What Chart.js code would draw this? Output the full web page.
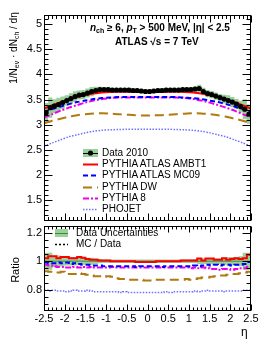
<!DOCTYPE html>
<html>
<head>
<meta charset="utf-8">
<script src="https://cdn.jsdelivr.net/npm/chart.js@4.4.0/dist/chart.umd.min.js"></script>
<style>
  body { margin: 0; width: 266px; height: 344px; position: relative; background: #fff; overflow: hidden;
         font-family: "Liberation Sans", Arial, sans-serif; }
  canvas { position: absolute; left: 0; }
  #top { top: 0; }
  #bot { top: 217px; }
  .t { position: absolute; white-space: nowrap; color: #000; line-height: 1; }
  .rot { transform: translate(-50%, -50%) rotate(-90deg); }
  .lg { font-size: 10px; transform: translateY(-50%); }
  sub { font-size: 70%; vertical-align: -0.3em; line-height: 0; }
</style>
</head>
<body>
<canvas id="top" width="266" height="230"></canvas>
<canvas id="bot" width="266" height="127"></canvas>

<div class="t" style="left:90px;top:23px;font-size:10px;font-weight:bold"><i>n</i><sub>ch</sub> ≥ 6, <i>p</i><sub>T</sub> &gt; 500 MeV, |η| &lt; 2.5</div>
<div class="t" style="left:115px;top:37px;font-size:10px;font-weight:bold">ATLAS √s = 7 TeV</div>
<div class="t rot" style="left:14px;top:48px;font-size:10px">1/N<sub>ev</sub> · dN<sub>ch</sub> / dη</div>
<div class="t rot" style="left:15px;top:270px;font-size:11px">Ratio</div>
<div class="t" style="left:241px;top:326px;font-size:12px">η</div>

<div class="t lg" style="left:102px;top:153px">Data 2010</div>
<div class="t lg" style="left:102px;top:164px">PYTHIA ATLAS AMBT1</div>
<div class="t lg" style="left:102px;top:175px">PYTHIA ATLAS MC09</div>
<div class="t lg" style="left:102px;top:187px">PYTHIA DW</div>
<div class="t lg" style="left:102px;top:198px">PYTHIA 8</div>
<div class="t lg" style="left:102px;top:209px">PHOJET</div>
<div class="t lg" style="left:76px;top:233px">Data Uncertainties</div>
<div class="t lg" style="left:76px;top:244px">MC / Data</div>

<script>
// eta binning: 50 bins of 0.1 between -2.5 and 2.5
const etaEdges = Array.from({ length: 51 }, (_, i) => +(-2.5 + 0.1 * i).toFixed(1));
const etaCenters = etaEdges.slice(0, 50).map(e => +(e + 0.05).toFixed(2));

// measured 1/Nev dNch/deta per bin
const dataVals = [3.24, 3.34, 3.37, 3.40, 3.44, 3.48, 3.52, 3.56, 3.59, 3.60,
                  3.63, 3.66, 3.68, 3.70, 3.70, 3.70, 3.69, 3.69, 3.69, 3.69,
                  3.69, 3.68, 3.68, 3.67, 3.66, 3.66, 3.67, 3.68, 3.68, 3.69,
                  3.69, 3.69, 3.69, 3.70, 3.70, 3.70, 3.71, 3.72, 3.66, 3.62,
                  3.60, 3.57, 3.54, 3.51, 3.48, 3.45, 3.41, 3.36, 3.31, 3.21];
// relative data uncertainty per bin
const dataUnc = [0.060, 0.060, 0.040, 0.040, 0.035, 0.030, 0.030, 0.030, 0.025, 0.025,
                 0.025, 0.025, 0.020, 0.015, 0.012, 0.012, 0.012, 0.012, 0.012, 0.012,
                 0.012, 0.012, 0.012, 0.012, 0.012, 0.012, 0.012, 0.012, 0.012, 0.012,
                 0.012, 0.012, 0.012, 0.012, 0.012, 0.012, 0.015, 0.020, 0.020, 0.020,
                 0.020, 0.020, 0.020, 0.025, 0.030, 0.030, 0.030, 0.035, 0.060, 0.060];

// MC predictions (top panel), sampled every 0.2 in eta
const mcEta = [-2.5, -2.3, -2.1, -1.9, -1.7, -1.5, -1.3, -1.1, -0.9, -0.7, -0.5, -0.3, -0.1,
               0.1, 0.3, 0.5, 0.7, 0.9, 1.1, 1.3, 1.5, 1.7, 1.9, 2.1, 2.3, 2.5];
const ambt1 = [3.32, 3.39, 3.45, 3.50, 3.55, 3.59, 3.62, 3.64, 3.65, 3.655, 3.655, 3.65, 3.65,
               3.65, 3.65, 3.655, 3.655, 3.65, 3.64, 3.62, 3.59, 3.55, 3.50, 3.45, 3.39, 3.32];
const mc09 = [3.26, 3.31, 3.36, 3.41, 3.45, 3.48, 3.51, 3.53, 3.54, 3.55, 3.55, 3.55, 3.55,
              3.55, 3.55, 3.55, 3.55, 3.54, 3.53, 3.51, 3.48, 3.45, 3.41, 3.36, 3.31, 3.26];
const pythia8 = [3.14, 3.21, 3.28, 3.34, 3.39, 3.44, 3.48, 3.51, 3.53, 3.54, 3.54, 3.54, 3.54,
                 3.54, 3.54, 3.54, 3.54, 3.53, 3.51, 3.48, 3.44, 3.39, 3.34, 3.28, 3.21, 3.14];
const dw = [3.03, 3.08, 3.12, 3.16, 3.19, 3.21, 3.225, 3.23, 3.22, 3.21, 3.20, 3.19, 3.185,
            3.185, 3.19, 3.20, 3.21, 3.22, 3.23, 3.225, 3.21, 3.19, 3.16, 3.12, 3.08, 3.03];
const phojet = [2.57, 2.64, 2.70, 2.76, 2.80, 2.84, 2.87, 2.89, 2.90, 2.905, 2.91, 2.91, 2.91,
                2.91, 2.91, 2.91, 2.905, 2.90, 2.89, 2.87, 2.84, 2.80, 2.76, 2.70, 2.64, 2.57];

// MC / Data per bin (bottom panel)
const rAmbt1 = [1.02, 1.035, 1.035, 1.02, 1.03, 1.03, 1.02, 1.02, 1.03, 1.025,
                1.015, 1.01, 1.01, 1.005, 1.005, 1.005, 1.0, 1.0, 1.0, 1.0,
                1.0, 1.0, 0.995, 0.995, 0.995, 0.995, 0.995, 1.0, 1.0, 1.0,
                1.0, 1.0, 1.0, 1.005, 1.005, 1.005, 1.005, 1.018, 1.005, 1.018,
                1.018, 1.01, 1.01, 1.02, 1.01, 1.015, 1.02, 1.015, 1.02, 1.045];
const rMc09 = [0.99, 0.985, 0.985, 0.99, 0.985, 0.99, 0.98, 0.985, 0.98, 0.975,
               0.975, 0.97, 0.97, 0.97, 0.965, 0.965, 0.965, 0.965, 0.965, 0.965,
               0.965, 0.965, 0.96, 0.965, 0.965, 0.965, 0.965, 0.965, 0.96, 0.965,
               0.965, 0.965, 0.965, 0.965, 0.965, 0.965, 0.97, 0.965, 0.97, 0.975,
               0.97, 0.975, 0.97, 0.975, 0.975, 0.97, 0.975, 0.975, 0.98, 0.995];
const rPythia8 = [0.975, 0.97, 0.965, 0.96, 0.96, 0.955, 0.955, 0.96, 0.955, 0.96,
                  0.955, 0.96, 0.955, 0.955, 0.955, 0.955, 0.96, 0.955, 0.955, 0.955,
                  0.955, 0.955, 0.955, 0.955, 0.955, 0.955, 0.955, 0.955, 0.955, 0.955,
                  0.955, 0.955, 0.955, 0.955, 0.955, 0.95, 0.955, 0.95, 0.955, 0.95,
                  0.945, 0.945, 0.94, 0.945, 0.945, 0.94, 0.945, 0.95, 0.95, 0.96];
const rDw = [0.93, 0.925, 0.925, 0.92, 0.925, 0.92, 0.91, 0.91, 0.915, 0.91,
             0.905, 0.9, 0.895, 0.895, 0.89, 0.895, 0.89, 0.88, 0.875, 0.875,
             0.87, 0.87, 0.87, 0.87, 0.865, 0.865, 0.87, 0.87, 0.87, 0.87,
             0.87, 0.87, 0.87, 0.87, 0.875, 0.87, 0.875, 0.88, 0.885, 0.885,
             0.89, 0.895, 0.9, 0.9, 0.905, 0.91, 0.91, 0.915, 0.92, 0.925];
const rPhojet = [0.795, 0.79, 0.795, 0.79, 0.79, 0.785, 0.79, 0.795, 0.79, 0.79,
                 0.795, 0.79, 0.785, 0.785, 0.785, 0.785, 0.785, 0.785, 0.78, 0.785,
                 0.78, 0.78, 0.78, 0.78, 0.78, 0.78, 0.78, 0.78, 0.78, 0.785,
                 0.78, 0.785, 0.785, 0.785, 0.785, 0.785, 0.79, 0.785, 0.79, 0.795,
                 0.79, 0.79, 0.79, 0.785, 0.79, 0.79, 0.79, 0.79, 0.795, 0.795];

const topYTicks = [1.5, 2, 2.5, 3, 3.5, 4, 4.5, 5];
const botYTicks = [0.8, 1, 1.2];
const xTickLabels = [-2.5, -2, -1.5, -1, -0.5, 0, 0.5, 1, 1.5, 2, 2.5];

// line styles
const st = {
  ambt1:   { color: "#ff0000", dash: [], width: 2 },
  mc09:    { color: "#0000ff", dash: [5, 3], width: 2 },
  dw:      { color: "#b07a10", dash: [9, 5], width: 2 },
  pythia8: { color: "#ee00ee", dash: [6, 2, 2, 2], width: 2 },
  phojet:  { color: "#7070ff", dash: [1.5, 1.5], width: 1.5 },
};
const bandColor = "#9bd09b";

Chart.defaults.font.family = "'Liberation Sans', Arial, sans-serif";
Chart.defaults.font.size = 11;
Chart.defaults.color = "#000";

//histogram as pairs of points at the bin edges
function histPoints(vals) {
  const pts = [];
  vals.forEach((v, i) => pts.push({ x: etaEdges[i], y: v }, { x: etaEdges[i + 1], y: v }));
  return pts;
}
function lineSet(pts, s, order) {
  return { data: pts, borderColor: s.color, borderDash: s.dash, borderWidth: s.width,
           pointRadius: 0, fill: false, order: order };
}

//ROOT style frame with ticks on all four sides
const rootFrame = {
  id: "rootFrame",
  afterDatasetsDraw(chart, args, o) {
    const { ctx, chartArea: a } = chart;
    const xs = chart.scales.x, ys = chart.scales.y;
    const L = Math.round(a.left) + 0.5, R = Math.round(a.right) - 0.5;
    const T = Math.round(a.top) + 0.5, B = Math.round(a.bottom) - 0.5;
    ctx.save();
    ctx.strokeStyle = "#000";
    ctx.lineWidth = 1;
    ctx.beginPath();
    for (let k = -25; k <= 25; k++) {
      const px = Math.round(xs.getPixelForValue(k / 10)) + 0.5;
      const len = k % 5 === 0 ? o.xMajor : o.xMinor;
      ctx.moveTo(px, B); ctx.lineTo(px, B - len);
      ctx.moveTo(px, T); ctx.lineTo(px, T + len);
    }
    for (let k = o.yFrom; k <= o.yTo; k++) {
      const v = k * o.yStep;
      const py = Math.round(ys.getPixelForValue(v)) + 0.5;
      if (py < T || py > B) continue;
      const len = k % o.yEvery === 0 ? o.yMajor : o.yMinor;
      ctx.moveTo(L, py); ctx.lineTo(L + len, py);
      ctx.moveTo(R, py); ctx.lineTo(R - len, py);
    }
    ctx.stroke();
    ctx.strokeRect(L, T, R - L, B - T);
    ctx.restore();
  },
};

//legend samples, drawn on the canvas next to the html labels
const legendSamples = {
  id: "legendSamples",
  afterDraw(chart, args, o) {
    const ctx = chart.ctx;
    ctx.save();
    for (const it of o.items) {
      const y = Math.round(it.y) + 0.5;
      if (it.box) {
        ctx.fillStyle = bandColor;
        ctx.fillRect(o.x0, it.y - it.box, o.x1 - o.x0, it.box * 2);
      }
      if (it.s) {
        ctx.strokeStyle = it.s.color;
        ctx.lineWidth = it.s.width;
        ctx.setLineDash(it.s.dash);
        ctx.beginPath();
        ctx.moveTo(o.x0, y); ctx.lineTo(o.x1, y);
        ctx.stroke();
        ctx.setLineDash([]);
      }
      if (it.dot) {
        ctx.fillStyle = "#000";
        ctx.beginPath();
        ctx.arc((o.x0 + o.x1) / 2, it.y, 2.6, 0, Math.PI * 2);
        ctx.fill();
      }
    }
    ctx.restore();
  },
};

// top panel
const bandUp = dataVals.map((v, i) => v * (1 + dataUnc[i]));
const bandLo = dataVals.map((v, i) => v * (1 - dataUnc[i]));
const errBars = [];
dataVals.forEach((v, i) => errBars.push({ x: etaEdges[i], y: v }, { x: etaEdges[i + 1], y: v }, { x: etaEdges[i + 1], y: null }));
const mcPts = arr => arr.map((v, i) => ({ x: mcEta[i], y: v }));

new Chart(document.getElementById("top"), {
  type: "line",
  data: {
    datasets: [
      { data: histPoints(bandUp), borderWidth: 0, pointRadius: 0, fill: false, order: 20 },
      { data: histPoints(bandLo), borderWidth: 0, pointRadius: 0, backgroundColor: bandColor, fill: "-1", order: 19 },
      { ...lineSet(mcPts(phojet), st.phojet, 10), tension: 0.3 },
      { ...lineSet(mcPts(dw), st.dw, 9), tension: 0.3 },
      { ...lineSet(mcPts(pythia8), st.pythia8, 8), tension: 0.3 },
      { ...lineSet(mcPts(mc09), st.mc09, 7), tension: 0.3 },
      { ...lineSet(mcPts(ambt1), st.ambt1, 6), tension: 0.3 },
      { data: errBars, borderColor: "#000", borderWidth: 1, pointRadius: 0, spanGaps: false, order: 2 },
      { data: dataVals.map((v, i) => ({ x: etaCenters[i], y: v })), showLine: false,
        pointRadius: 2.6, pointBackgroundColor: "#000", pointBorderWidth: 0, order: 1 },
    ],
  },
  options: {
    responsive: false,
    animation: false,
    layout: { padding: { left: 0, top: 15, right: 15, bottom: 6 } },
    scales: {
      x: { type: "linear", min: -2.5, max: 2.5, display: false },
      y: {
        type: "linear", min: 1.08, max: 5.18,
        grid: { display: false, drawTicks: false }, border: { display: false },
        afterBuildTicks: s => { s.ticks = topYTicks.map(v => ({ value: v })); },
        afterFit: s => { s.width = 44; },
        ticks: { padding: 2, callback: v => String(v) },
      },
    },
    plugins: {
      legend: { display: false }, tooltip: { enabled: false },
      rootFrame: { xMajor: 7, xMinor: 3.5, yFrom: 11, yTo: 51, yStep: 0.1, yEvery: 5, yMajor: 8, yMinor: 4 },
      legendSamples: {
        x0: 83, x1: 98,
        items: [
          { y: 153, box: 4, s: { color: "#000", dash: [], width: 1 }, dot: true },
          { y: 164, s: st.ambt1 },
          { y: 175, s: st.mc09 },
          { y: 187, s: st.dw },
          { y: 198, s: st.pythia8 },
          { y: 209, s: st.phojet },
        ],
      },
    },
  },
  plugins: [rootFrame, legendSamples],
});

// ratio panel
new Chart(document.getElementById("bot"), {
  type: "line",
  data: {
    datasets: [
      { data: histPoints(dataUnc.map(u => 1 + u)), borderWidth: 0, pointRadius: 0, fill: false, order: 20 },
      { data: histPoints(dataUnc.map(u => 1 - u)), borderWidth: 0, pointRadius: 0, backgroundColor: bandColor, fill: "-1", order: 19 },
      { data: [{ x: -2.5, y: 1 }, { x: 2.5, y: 1 }], borderColor: "#3d8a3d", borderWidth: 1, pointRadius: 0, order: 18 },
      lineSet(histPoints(rPhojet), st.phojet, 10),
      lineSet(histPoints(rDw), st.dw, 9),
      lineSet(histPoints(rPythia8), st.pythia8, 8),
      lineSet(histPoints(rMc09), st.mc09, 7),
      lineSet(histPoints(rAmbt1), st.ambt1, 6),
    ],
  },
  options: {
    responsive: false,
    animation: false,
    layout: { padding: { left: 0, top: 6, right: 15, bottom: 13 } },
    scales: {
      x: {
        type: "linear", min: -2.5, max: 2.5,
        grid: { display: false, drawTicks: false }, border: { display: false },
        afterBuildTicks: s => { s.ticks = xTickLabels.map(v => ({ value: v })); },
        afterFit: s => { s.height = 20; },
        ticks: { padding: 1, autoSkip: false, maxRotation: 0, callback: v => String(v) },
      },
      y: {
        type: "linear", min: 0.65, max: 1.25,
        grid: { display: false, drawTicks: false }, border: { display: false },
        afterBuildTicks: s => { s.ticks = botYTicks.map(v => ({ value: v })); },
        afterFit: s => { s.width = 44; },
        ticks: { padding: 2, callback: v => String(v) },
      },
    },
    plugins: {
      legend: { display: false }, tooltip: { enabled: false },
      rootFrame: { xMajor: 6, xMinor: 3, yFrom: 13, yTo: 25, yStep: 0.05, yEvery: 4, yMajor: 8, yMinor: 4 },
      legendSamples: {
        x0: 55, x1: 68,
        items: [
          { y: 16, box: 4, s: { color: "#3d8a3d", dash: [], width: 1 } },
          { y: 27, s: { color: "#000", dash: [2, 2], width: 1.5 } },
        ],
      },
    },
  },
  plugins: [rootFrame, legendSamples],
});
</script>
</body>
</html>
